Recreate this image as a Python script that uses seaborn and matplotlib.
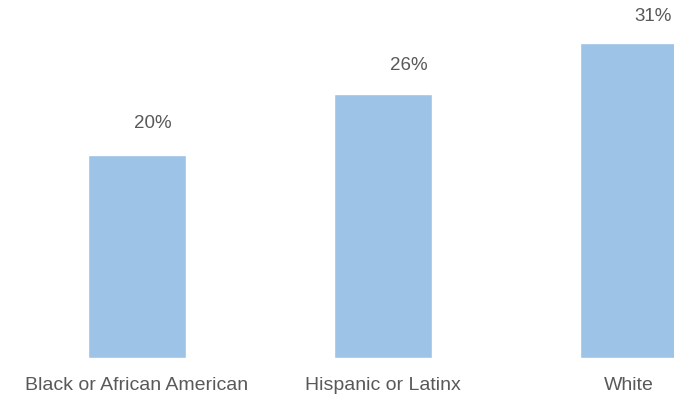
import matplotlib
matplotlib.use("Agg")
import matplotlib.pyplot as plt
import seaborn as sns
import pandas as pd

categories = ["Black or African American", "Hispanic or Latinx", "White"]
values = [20, 26, 31]
value_labels = ["20%", "26%", "31%"]

# label placement styling (pixel offsets of value labels relative to bar top centre)
label_dx = [16, 26, 24]
label_dy = [27, 24, 22]

sns.set_theme(style="white")
plt.rcParams["font.family"] = ["Liberation Sans", "DejaVu Sans"]

df = pd.DataFrame({"cat": categories, "val": values})

W, H = 674, 394
fig = plt.figure(figsize=(W / 100, H / 100), dpi=100)
bottom_px = 358
ax = fig.add_axes([0, (H - bottom_px) / H, 1, bottom_px / H])

sns.barplot(data=df, x="cat", y="val", color="#9DC3E6", saturation=1,
            width=0.4, ax=ax)

spacing = 246.0
ax.set_xlim(-137 / spacing, 2 + (W - 629) / spacing)
px_per_unit = 10.15
ax.set_ylim(0, bottom_px / px_per_unit)

text_color = "#595959"
for i, (v, lab) in enumerate(zip(values, value_labels)):
    ax.annotate(lab, xy=(i, v), xycoords="data",
                xytext=(label_dx[i], label_dy[i]), textcoords="offset pixels",
                ha="center", va="baseline", fontsize=13.5, color=text_color)

ax.set_xlabel("")
ax.set_ylabel("")
ax.set_yticks([])
ax.tick_params(axis="x", length=0, pad=14, labelsize=14, labelcolor=text_color)
for s in ax.spines.values():
    s.set_visible(False)
ax.set_facecolor("white")
fig.patch.set_facecolor("white")

fig.savefig("out.png", dpi=100)
